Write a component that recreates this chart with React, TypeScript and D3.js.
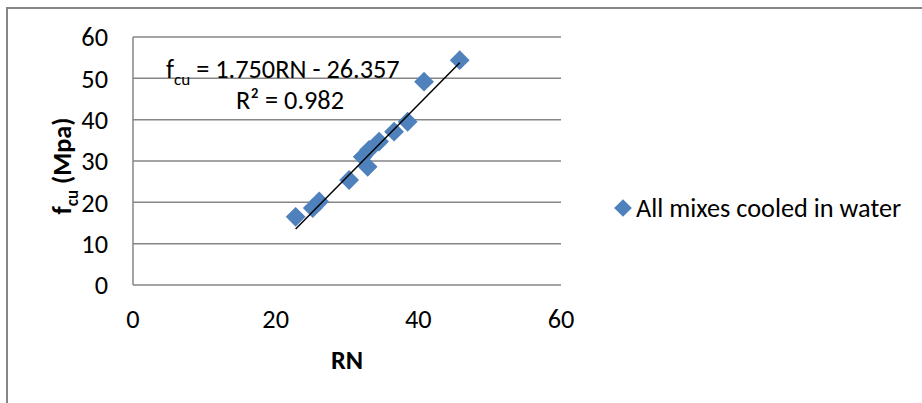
import React from "react";
import * as d3 from "d3";

const RN = [22.8, 25.2, 26.1, 30.3, 32.2, 32.9, 33.1, 34.5, 36.6, 38.5, 40.8, 45.8];
const FCU = [16.5, 18.6, 20.2, 25.4, 31.0, 28.6, 32.7, 34.7, 37.1, 39.5, 49.2, 54.4];
const TREND_SLOPE = [1.75];
const TREND_INTERCEPT = [-26.357];
const X_TICKS = [0, 20, 40, 60];
const Y_TICKS = [0, 10, 20, 30, 40, 50, 60];
const SERIES_NAME = "All mixes cooled in water";
const EQ_MAIN = "= 1.750RN - 26.357";
const R2_TEXT = "R² = 0.982";

const FONT = "Carlito, Calibri, Lato, sans-serif";
const FS = 26.3;
const BLUE = "#4F81BD";
const GRAY = "#868686";

export default function App() {
  const x = d3.scaleLinear().domain([0, 60]).range([133, 561]);
  const y = d3.scaleLinear().domain([0, 60]).range([285, 37]);
  const slope = TREND_SLOPE[0];
  const icpt = TREND_INTERCEPT[0];
  const [xmin, xmax] = d3.extent(RN) as [number, number];
  const line = d3.line<number>().x((d) => x(d)).y((d) => y(slope * d + icpt));
  const diamond = d3.symbol().type(d3.symbolDiamond2).size(250)();
  const legendDiamond = d3.symbol().type(d3.symbolDiamond2).size(200)();
  return (
    <svg width={922} height={403} style={{ position: "absolute", left: 0, top: 0, background: "#fff" }} fontFamily={FONT}>
      <rect x={7} y={8} width={940} height={420} fill="#fff" stroke={GRAY} strokeWidth={2} />
      {Y_TICKS.filter((t) => t > 0).map((t) => (
        <line key={"g" + t} x1={x(0)} x2={x(60)} y1={y(t)} y2={y(t)} stroke={GRAY} strokeWidth={1.5} />
      ))}
      <line x1={x(0)} x2={x(0)} y1={y(0)} y2={y(60)} stroke={GRAY} strokeWidth={1.5} />
      <line x1={x(0)} x2={x(60)} y1={y(0)} y2={y(0)} stroke={GRAY} strokeWidth={1.5} />
      {Y_TICKS.map((t) => (
        <text key={"y" + t} x={108} y={y(t)} dy="0.35em" textAnchor="end" fontSize={FS} fill="#000">{t}</text>
      ))}
      {X_TICKS.map((t) => (
        <text key={"x" + t} x={x(t)} y={319} dy="0.35em" textAnchor="middle" fontSize={FS} fill="#000">{t}</text>
      ))}
      {RN.map((r, i) => (
        <path key={"p" + i} d={diamond!} transform={`translate(${x(r)},${y(FCU[i])})`} fill={BLUE} />
      ))}
      <path d={line([xmin, xmax])!} stroke="#000" strokeWidth={1.5} fill="none" />
      <text x={166} y={78} fontSize={FS} fill="#000">
        <tspan>f</tspan>
        <tspan dy={7} fontSize={FS * 0.65}>cu</tspan>
        <tspan dy={-7}> {EQ_MAIN}</tspan>
      </text>
      <text x={290} y={109} fontSize={FS} textAnchor="middle" fill="#000">{R2_TEXT}</text>
      <text x={347} y={369} fontSize={FS} fontWeight="bold" textAnchor="middle" fill="#000">RN</text>
      <text transform="translate(71,166) rotate(-90)" fontSize={FS} fontWeight="bold" textAnchor="middle" fill="#000">
        <tspan>f</tspan>
        <tspan dy={7} fontSize={FS * 0.65}>cu</tspan>
        <tspan dy={-7}> (Mpa)</tspan>
      </text>
      <path d={legendDiamond!} transform="translate(623,208)" fill={BLUE} />
      <text x={636} y={217} fontSize={FS} fill="#000">{SERIES_NAME}</text>
    </svg>
  );
}
